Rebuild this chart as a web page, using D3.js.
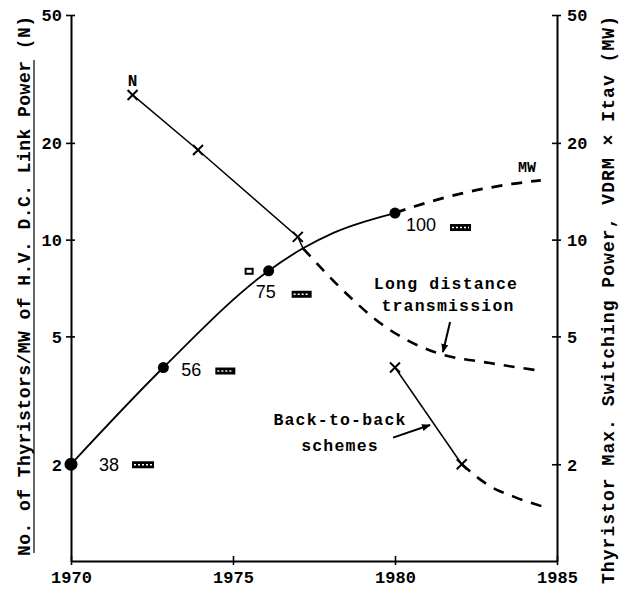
<!DOCTYPE html>
<html>
<head>
<meta charset="utf-8">
<script src="https://cdn.jsdelivr.net/npm/d3@7"></script>
<style>
  body { margin: 0; background: #fff; }
  text { fill: #000; }
</style>
</head>
<body>
<svg id="chart" width="621" height="592"></svg>
<script>
// tick values
const years = [1970, 1975, 1980, 1985]
const yTicks = [2, 5, 10, 20, 50]

// MW curve (thyristor switching power), solid part with dots, then projected
const mwSolid = [[1970, 2.0], [1972.85, 4.0], [1976.1, 8.0], [1977.16, 9.4], [1978.1, 10.5], [1980, 12.1]]
const mwDashed = [[1980, 12.1], [1980.62, 12.7], [1982.16, 14.0], [1983.61, 14.9], [1984.5, 15.3]]
const mwDots = [[1970, 2.0], [1972.85, 4.0], [1976.1, 8.0], [1980, 12.1]]
const mwLabels = ['38', '56', '75', '100']

// N curve (thyristors per MW)
const nSolid = [[1971.9, 28.2], [1973.92, 19.0], [1977.0, 10.2], [1977.16, 9.4]]
const nMarks = [[1971.9, 28.2], [1973.92, 19.0], [1977.0, 10.2]]
const longDist = [[1977.16, 9.4], [1978.61, 6.63], [1979.54, 5.5], [1980.37, 4.87], [1981.3, 4.44], [1982.93, 4.13], [1984.32, 3.93]]
const b2bSolid = [[1980, 4.0], [1982.06, 2.0]]
const b2bDashed = [[1982.06, 2.0], [1982.93, 1.71], [1983.7, 1.58], [1984.63, 1.47]]

// annotation arrows [from, to]
const arrowLong = [[1981.7, 5.54], [1981.48, 4.47]]
const arrowB2b = [[1979.94, 2.42], [1981.08, 2.65]]

const svg = d3.select('#chart')
const mono = '"Liberation Mono", "DejaVu Sans Mono", monospace'

const x = d3.scaleLinear().domain([1970, 1985]).range([71, 557])
const y = d3.scaleLog().domain([1, 50]).range([561, 15])

svg.append('defs').append('marker')
    .attr('id', 'head')
    .attr('viewBox', '0 0 10 10')
    .attr('refX', 9).attr('refY', 5)
    .attr('markerWidth', 9).attr('markerHeight', 9)
    .attr('markerUnits', 'userSpaceOnUse')
    .attr('orient', 'auto')
  .append('path')
    .attr('d', 'M0,1L10,5L0,9Z')
    .attr('fill', '#000')

// axes
const styleAxis = g => {
    g.select('.domain').attr('stroke', '#000').attr('stroke-width', 2)
    g.selectAll('.tick line').attr('stroke', '#000').attr('stroke-width', 1.6)
    g.selectAll('.tick text')
        .attr('font-family', mono)
        .attr('font-size', 17)
        .attr('font-weight', 'bold')
        .attr('fill', '#000')
}

const left = svg.append('g')
    .attr('transform', `translate(${x(1970)},0)`)
    .call(d3.axisLeft(y).tickValues(yTicks).tickFormat(d3.format('d')).tickSize(5).tickSizeOuter(0).tickPadding(4))
    .call(styleAxis)
left.selectAll('.tick').append('line').attr('x2', 4).attr('stroke', '#000').attr('stroke-width', 1.6)
left.selectAll('.tick text').attr('dy', '0.35em')

const right = svg.append('g')
    .attr('transform', `translate(${x(1985)},0)`)
    .call(d3.axisRight(y).tickValues(yTicks).tickFormat(d3.format('d')).tickSize(4).tickSizeOuter(0).tickPadding(6))
    .call(styleAxis)
right.selectAll('.tick').append('line').attr('x2', -5).attr('stroke', '#000').attr('stroke-width', 1.6)
right.selectAll('.tick text').attr('dy', '0.35em')

const bottom = svg.append('g')
    .attr('transform', `translate(0,${y(1)})`)
    .call(d3.axisBottom(x).tickValues(years).tickFormat(d3.format('d')).tickSize(4).tickSizeOuter(0).tickPadding(6))
    .call(styleAxis)
bottom.selectAll('.tick').append('line').attr('y2', -5).attr('stroke', '#000').attr('stroke-width', 1.6)

// axis titles
svg.append('text')
    .attr('transform', `translate(30,${(y(1) + y(50)) / 2 - 2}) rotate(-90)`)
    .attr('text-anchor', 'middle')
    .attr('font-family', mono).attr('font-size', 18).attr('font-weight', 'bold')
    .attr('textLength', 540).attr('lengthAdjust', 'spacing')
    .text('No. of Thyristors/MW of H.V. D.C. Link Power (N)')
svg.append('line')
    .attr('x1', 34).attr('x2', 34).attr('y1', 60).attr('y2', 553)
    .attr('stroke', '#000').attr('stroke-width', 1.2)

svg.append('text')
    .attr('transform', `translate(614,300) rotate(-90)`)
    .attr('text-anchor', 'middle')
    .attr('font-family', mono).attr('font-size', 18).attr('font-weight', 'bold')
    .attr('textLength', 568).attr('lengthAdjust', 'spacing')
    .text('Thyristor Max. Switching Power, VDRM × Itav (MW)')

// lines
const line = d3.line().x(d => x(d[0])).y(d => y(d[1]))
const smooth = d3.line().x(d => x(d[0])).y(d => y(d[1])).curve(d3.curveMonotoneX)

const drawPath = (data, gen, width, dash) => svg.append('path')
    .datum(data)
    .attr('d', gen)
    .attr('fill', 'none')
    .attr('stroke', '#000')
    .attr('stroke-width', width)
    .attr('stroke-dasharray', dash)

drawPath(mwSolid, smooth, 1.8, null)
drawPath(mwDashed, smooth, 2.8, '11,9')
drawPath(nSolid, line, 1.5, null)
drawPath(longDist, smooth, 2.6, '11,9')
drawPath(b2bSolid, line, 1.5, null)
drawPath(b2bDashed, smooth, 2.6, '11,9')

// markers
svg.append('g').selectAll('circle')
    .data(mwDots)
    .join('circle')
    .attr('cx', d => x(d[0]))
    .attr('cy', d => y(d[1]))
    .attr('r', (d, i) => i === 0 ? 6.5 : 5.5)
    .attr('fill', '#000')

const cross = 5
const crosses = nMarks.concat([b2bSolid[0], b2bSolid[1]])
svg.append('g').selectAll('path')
    .data(crosses)
    .join('path')
    .attr('d', d => {
        const cx = x(d[0]), cy = y(d[1])
        return `M${cx - cross},${cy - cross}L${cx + cross},${cy + cross}M${cx - cross},${cy + cross}L${cx + cross},${cy - cross}`
    })
    .attr('stroke', '#000')
    .attr('stroke-width', 2)

// dot labels and the little boxes next to them
const labelOff = [[28, 7], [18, 8], [-13, 27], [11, 18]]
const boxOff = [[61, 0, 22], [52, 3, 20], [23, 23, 20], [55, 14, 21]]
svg.append('g').selectAll('text')
    .data(mwDots)
    .join('text')
    .attr('x', (d, i) => x(d[0]) + labelOff[i][0])
    .attr('y', (d, i) => y(d[1]) + labelOff[i][1])
    .attr('font-family', '"Liberation Sans", Arial, sans-serif')
    .attr('font-size', 18)
    .text((d, i) => mwLabels[i])

const boxes = svg.append('g')
mwDots.forEach((d, i) => {
    const bx = x(d[0]) + boxOff[i][0], by = y(d[1]) + boxOff[i][1]
    boxes.append('rect')
        .attr('x', bx).attr('y', by - 3)
        .attr('width', boxOff[i][2]).attr('height', 7)
        .attr('fill', '#000')
    boxes.append('line')
        .attr('x1', bx + 2).attr('x2', bx + boxOff[i][2] - 2)
        .attr('y1', by + 0.5).attr('y2', by + 0.5)
        .attr('stroke', '#fff').attr('stroke-width', 1.4)
        .attr('stroke-dasharray', '2,2')
})
// small box left of the 75 dot
boxes.append('rect')
    .attr('x', x(mwDots[2][0]) - 24).attr('y', y(mwDots[2][1]) - 3)
    .attr('width', 9).attr('height', 7)
    .attr('fill', '#000')
boxes.append('rect')
    .attr('x', x(mwDots[2][0]) - 22).attr('y', y(mwDots[2][1]) - 1)
    .attr('width', 5).attr('height', 3)
    .attr('fill', '#fff')

// curve labels
svg.append('text')
    .attr('x', x(nMarks[0][0])).attr('y', y(nMarks[0][1]) - 9)
    .attr('text-anchor', 'middle')
    .attr('font-family', mono).attr('font-size', 16).attr('font-weight', 'bold')
    .text('N')
svg.append('text')
    .attr('x', 527).attr('y', 172)
    .attr('text-anchor', 'middle')
    .attr('font-family', mono).attr('font-size', 15).attr('font-weight', 'bold')
    .text('MW')

const note = (tx, ty, s) => svg.append('text')
    .attr('x', tx).attr('y', ty)
    .attr('text-anchor', 'middle')
    .attr('font-family', mono).attr('font-size', 16.5).attr('font-weight', 'bold')
    .attr('letter-spacing', 1.2)
    .text(s)
note(446, 289, 'Long distance')
note(448, 311, 'transmission')
note(340, 425, 'Back-to-back')
note(340, 451, 'schemes')

// arrows
;[arrowLong, arrowB2b].forEach(a => {
    svg.append('line')
        .attr('x1', x(a[0][0])).attr('y1', y(a[0][1]))
        .attr('x2', x(a[1][0])).attr('y2', y(a[1][1]))
        .attr('stroke', '#000').attr('stroke-width', 2)
        .attr('marker-end', 'url(#head)')
})
</script>
</body>
</html>
